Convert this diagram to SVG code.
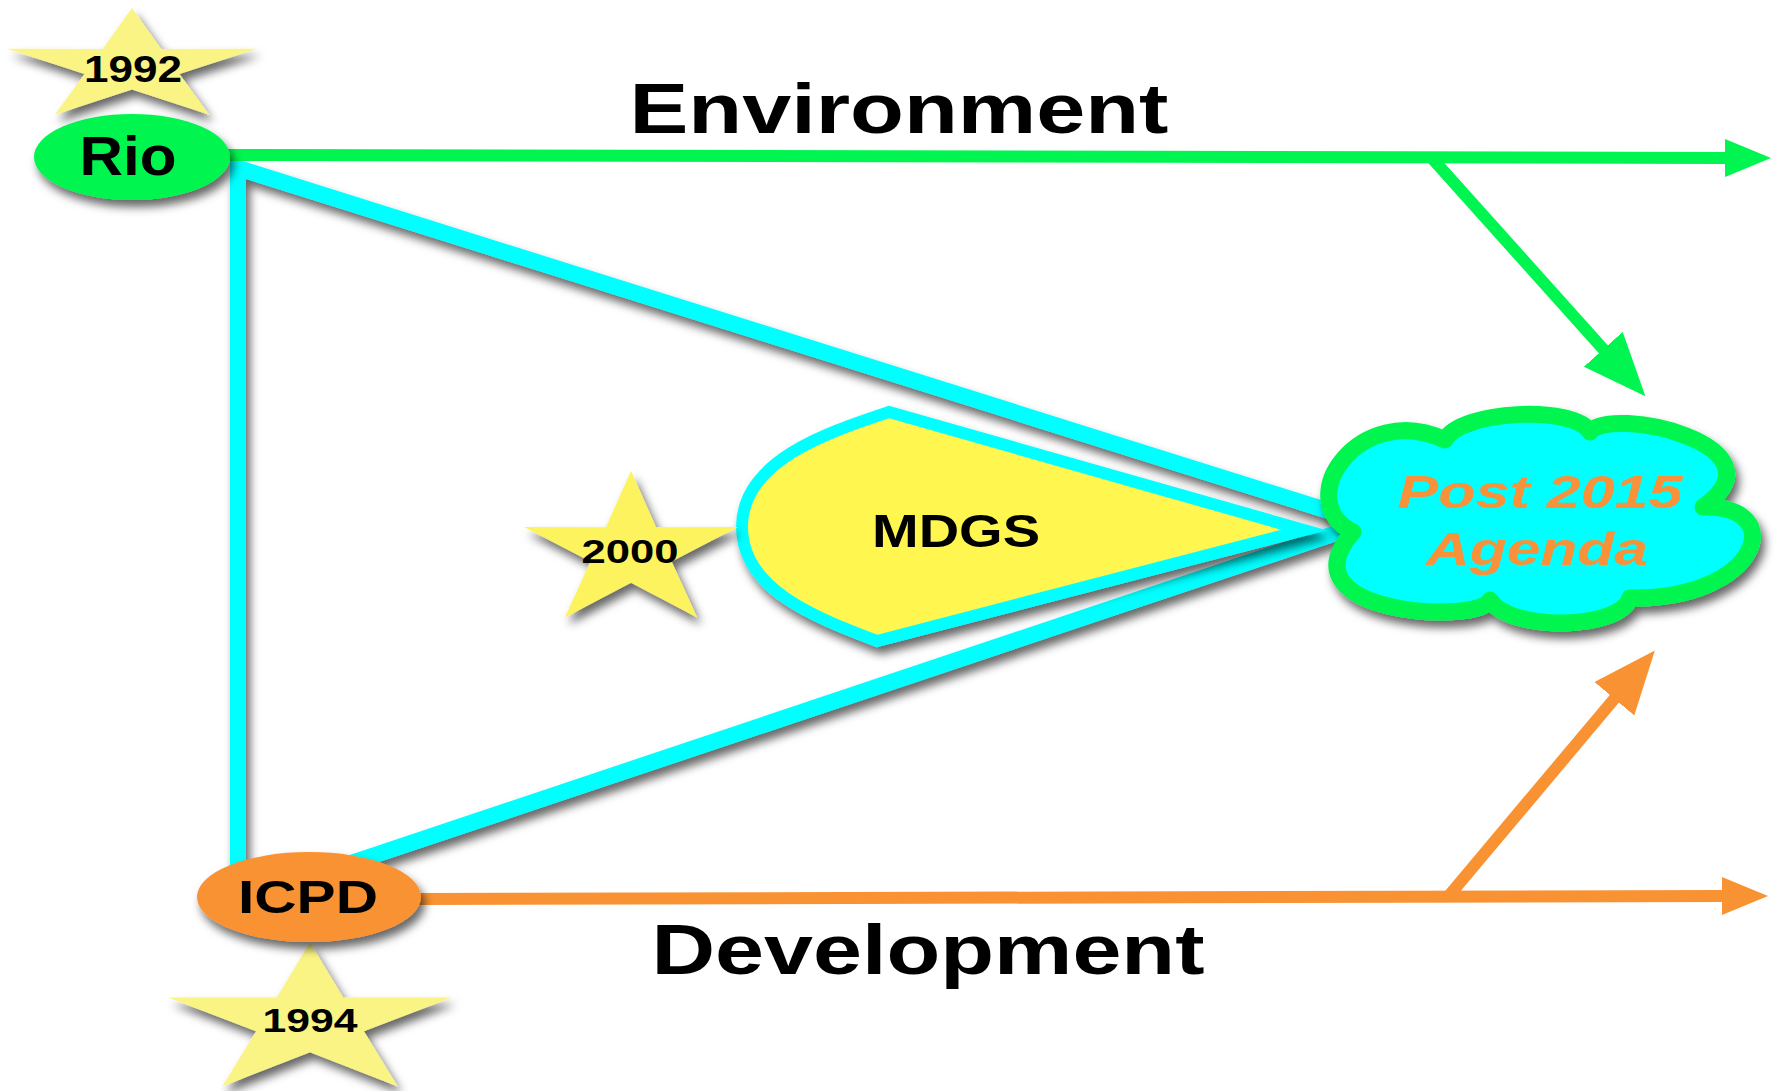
<svg xmlns="http://www.w3.org/2000/svg" width="1776" height="1091" viewBox="0 0 1776 1091">
<style>
  .lbl { font-family: "Liberation Sans", Arial, sans-serif; font-weight: bold; fill: #000; text-anchor: middle; }
  .star { fill: #FAF484; }
  .star2 { fill: #FDF35E; }
  .cyan { fill: none; stroke: #00FFFF; stroke-width: 16; stroke-linejoin: miter; }
  .gline { fill: none; stroke: #00F550; stroke-width: 12; }
  .oline { fill: none; stroke: #F99232; stroke-width: 12; }
</style>
<defs>
  <filter id="sh" x="-20%" y="-20%" width="140%" height="150%">
    <feDropShadow dx="4" dy="7" stdDeviation="5" flood-color="#000" flood-opacity="0.6"/>
  </filter>
  <polygon id="starShape" points="0,-100 22.3,-30.7 95.1,-30.9 36.1,11.7 58.8,80.9 0,38 -58.8,80.9 -36.1,11.7 -95.1,-30.9 -22.3,-30.7"/>
  <marker id="ag" markerUnits="userSpaceOnUse" viewBox="0 0 46 38" markerWidth="46" markerHeight="38" refX="1" refY="19" orient="auto">
    <path d="M0,0 L46,19 L0,38 Z" fill="#00F550"/>
  </marker>
  <marker id="ao" markerUnits="userSpaceOnUse" viewBox="0 0 46 38" markerWidth="46" markerHeight="38" refX="1" refY="19" orient="auto">
    <path d="M0,0 L46,19 L0,38 Z" fill="#F99232"/>
  </marker>
  <marker id="agL" markerUnits="userSpaceOnUse" viewBox="0 0 63 52" markerWidth="63" markerHeight="52" refX="1" refY="26" orient="auto">
    <path d="M0,0 L63,26 L0,52 Z" fill="#00F550"/>
  </marker>
  <marker id="aoL" markerUnits="userSpaceOnUse" viewBox="0 0 63 52" markerWidth="63" markerHeight="52" refX="1" refY="26" orient="auto">
    <path d="M0,0 L63,26 L0,52 Z" fill="#F99232"/>
  </marker>
</defs>
<rect width="1776" height="1091" fill="#fff"/>

<g id="connectors">
  <g filter="url(#sh)">
    <path class="cyan" d="M1345,516 L238,168 L238,872"/>
    <path class="cyan" d="M336,868 L1345,530"/>
  </g>
  <path class="gline" d="M226,155 L1726,158" marker-end="url(#ag)"/>
  <path class="gline" d="M1430,156 L1604,350" marker-end="url(#agL)"/>
  <path class="oline" d="M418,899 L1723,896" marker-end="url(#ao)"/>
  <path class="oline" d="M1447,898 L1615,698" marker-end="url(#aoL)"/>
</g>

<g id="mdgs">
  <path d="M889,412 L1304,530 L877,641 C817,618 742,590 742,527 C742,460 829,432 889,412 Z" fill="#FFF750" stroke="#00FFFF" stroke-width="12" filter="url(#sh)"/>
  <text class="lbl" x="956" y="547" font-size="46" textLength="168" lengthAdjust="spacingAndGlyphs">MDGS</text>
</g>

<g id="star2000">
  <g filter="url(#sh)"><use href="#starShape" class="star2" transform="translate(631,552) scale(1.125,0.81)"/></g>
  <text class="lbl" x="630" y="563" font-size="33" textLength="97" lengthAdjust="spacingAndGlyphs">2000</text>
</g>

<g id="post2015">
  <path d="M1353,532 C1290,500 1360,400 1445,440 C1460,410 1575,405 1590,432 C1610,405 1790,445 1703,507 C1790,505 1760,600 1630,598 C1620,630 1510,632 1490,600 C1480,625 1280,615 1353,532 Z" fill="#00FFFF" stroke="#00F550" stroke-width="17" stroke-linejoin="round" filter="url(#sh)"/>
  <text class="lbl" x="1540" y="508" font-size="47" font-style="italic" style="fill:#F7913A" textLength="285" lengthAdjust="spacingAndGlyphs">Post 2015</text>
  <text class="lbl" x="1537" y="565" font-size="47" font-style="italic" style="fill:#F7913A" textLength="222" lengthAdjust="spacingAndGlyphs">Agenda</text>
</g>

<g id="rio">
  <g filter="url(#sh)"><use href="#starShape" class="star" transform="translate(132,67) scale(1.314,0.59)"/></g>
  <text class="lbl" x="133" y="82" font-size="37" textLength="98" lengthAdjust="spacingAndGlyphs">1992</text>
  <ellipse cx="132" cy="157" rx="98" ry="43" fill="#00F550" filter="url(#sh)"/>
  <text class="lbl" x="128" y="175" font-size="56" textLength="97" lengthAdjust="spacingAndGlyphs">Rio</text>
</g>

<g id="icpd">
  <g filter="url(#sh)"><use href="#starShape" class="star" transform="translate(310,1022) scale(1.493,0.796)"/></g>
  <text class="lbl" x="310" y="1032" font-size="34" textLength="95" lengthAdjust="spacingAndGlyphs">1994</text>
  <ellipse cx="309" cy="897" rx="112" ry="45" fill="#F99232" filter="url(#sh)"/>
  <text class="lbl" x="308" y="913" font-size="47" textLength="140" lengthAdjust="spacingAndGlyphs">ICPD</text>
</g>

<g id="labels">
  <text class="lbl" x="899" y="133" font-size="71" textLength="539" lengthAdjust="spacingAndGlyphs">Environment</text>
  <text class="lbl" x="928" y="974" font-size="71" textLength="553" lengthAdjust="spacingAndGlyphs">Development</text>
</g>
</svg>
